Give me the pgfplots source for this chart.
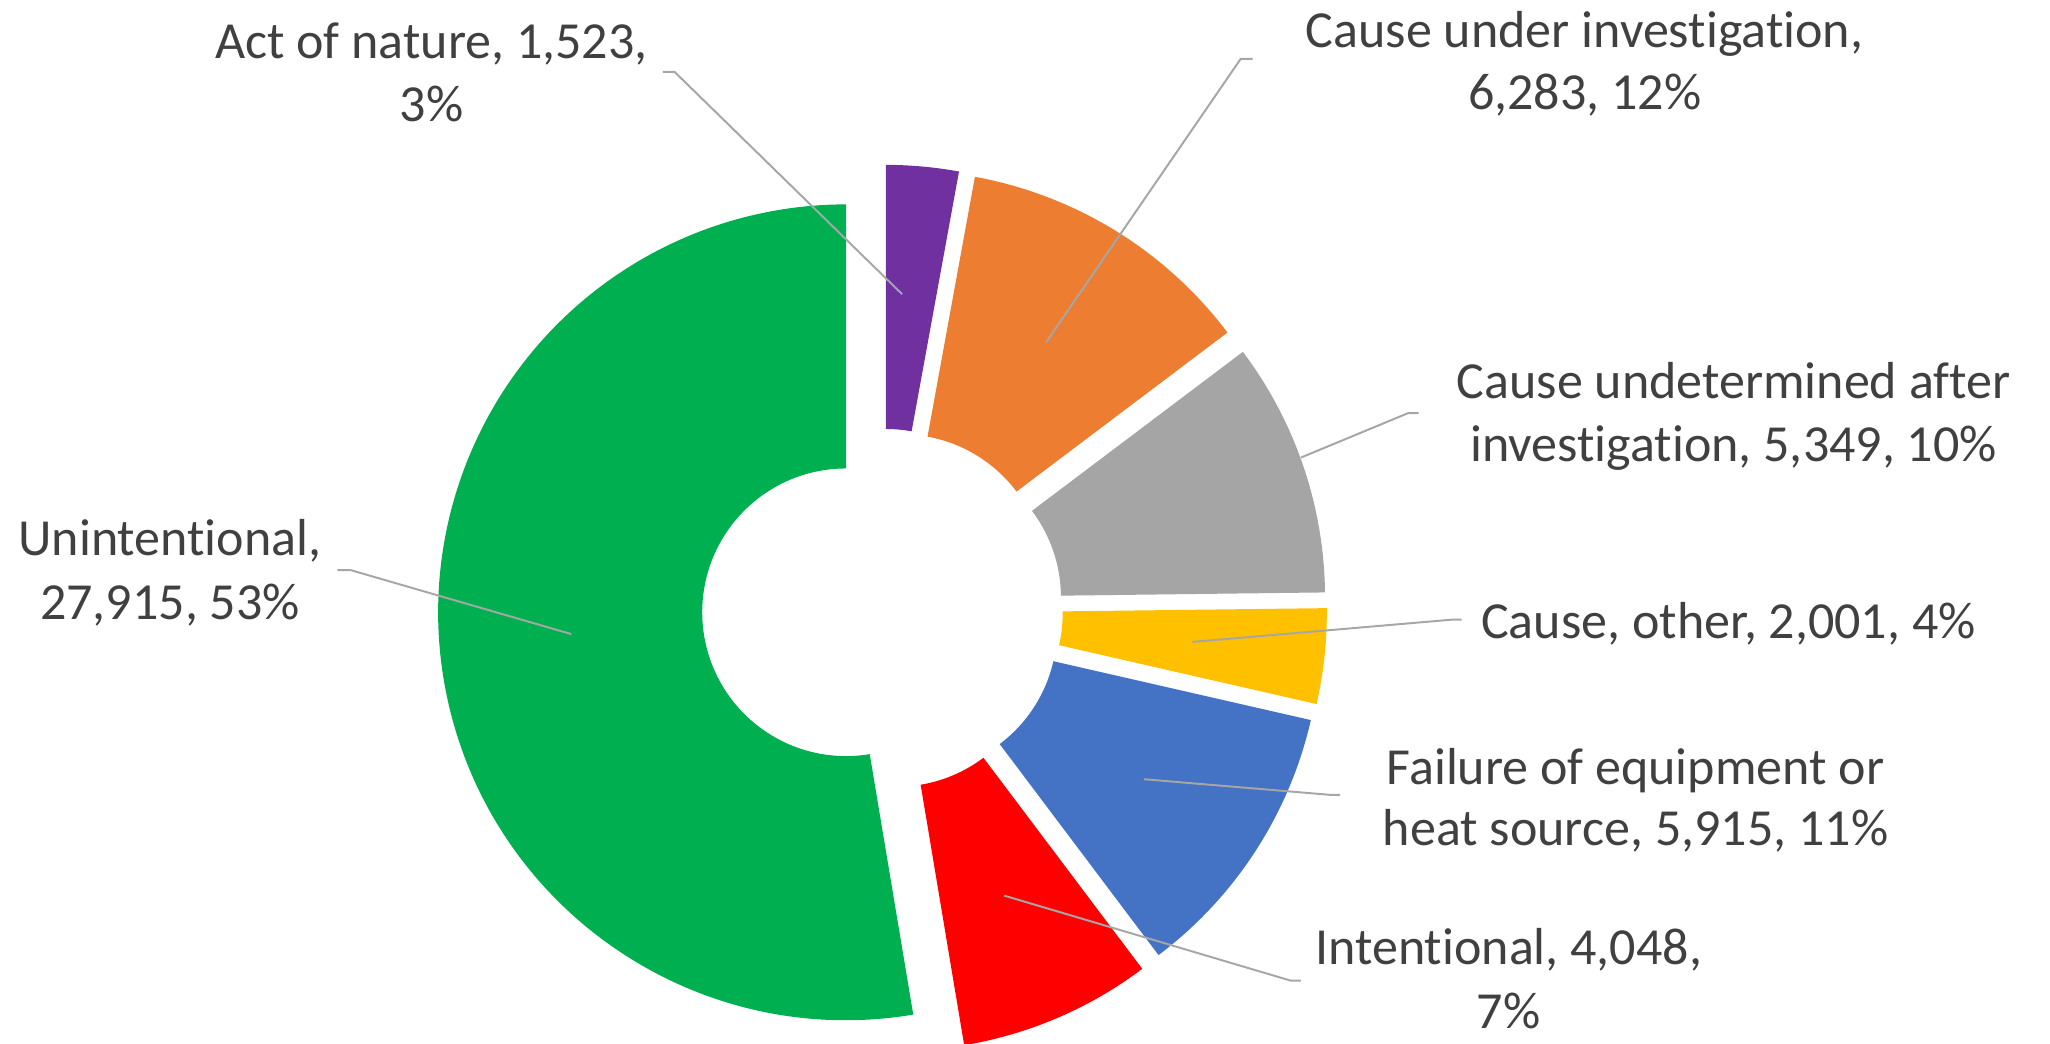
\documentclass[border=0pt]{standalone}
\usepackage{pgfplots}
\pgfplotsset{compat=1.18}
\usepackage{pgfplotstable}
\usepackage{fontspec}
\setmainfont{Carlito}[RawFeature={-liga;-clig;-calt;-dlig}]
\definecolor{cPurple}{HTML}{7030A0}
\definecolor{cOrange}{HTML}{ED7D31}
\definecolor{cGray}{HTML}{A5A5A5}
\definecolor{cYellow}{HTML}{FFC000}
\definecolor{cBlue}{HTML}{4472C4}
\definecolor{cRed}{HTML}{FF0000}
\definecolor{cGreen}{HTML}{00B050}
\definecolor{txt}{HTML}{404040}
\definecolor{leader}{HTML}{A6A6A6}

% Causes of fires (clockwise from 12 o'clock)
\pgfplotstableread{
idx value
0 1523
1 6283
2 5349
3 2001
4 5915
5 4048
6 27915
}\causedata

\xdef\cumsum{0}
\pgfplotsforeachungrouped \i in {0,...,6}{%
  \pgfplotstablegetelem{\i}{value}\of\causedata
  \expandafter\xdef\csname cumA\i\endcsname{\cumsum}%
  \xdef\cumsum{\fpeval{\cumsum+\pgfplotsretval}}%
  \expandafter\xdef\csname cumB\i\endcsname{\cumsum}%
}
\xdef\total{\cumsum}

% donut geometry (1 axis unit = 0.5pt)
\def\cx{675}\def\cy{466}
\def\Rout{156pt}\def\Rin{55pt}\def\Expl{14pt}

\newcommand\slice[2]{%
  \edef\phs{\fpeval{90-360*\csname cumA#1\endcsname/\total}}%
  \edef\phe{\fpeval{90-360*\csname cumB#1\endcsname/\total}}%
  \edef\phm{\fpeval{(\phs+\phe)/2}}%
  \edef\temp{\noexpand\fill[#2, shift={(axis cs:\cx,\cy)}, shift={(\phm:\Expl)}]
    (\phs:\Rout) arc[start angle=\phs, end angle=\phe, radius=\Rout]
    -- (\phe:\Rin) arc[start angle=\phe, end angle=\phs, radius=\Rin] -- cycle;}%
  \temp
}
\newcommand\lbl[3]{\node[anchor=base, text=txt, inner sep=0pt, font=\fontsize{19.9}{24}\selectfont] at (axis cs:#1,#2) {#3};}

\begin{document}
\begin{tikzpicture}
\begin{axis}[
  width=784pt, height=399pt, scale only axis,
  xmin=0, xmax=1568, ymin=0, ymax=798, y dir=reverse,
  hide axis, clip=false,
]
\slice{0}{cPurple}
\slice{1}{cOrange}
\slice{2}{cGray}
\slice{3}{cYellow}
\slice{4}{cBlue}
\slice{5}{cRed}
\slice{6}{cGreen}

\begin{scope}[leader, line width=0.75pt]
\draw (axis cs:507,55) -- (axis cs:516,55) -- (axis cs:690,225);
\draw (axis cs:958,45) -- (axis cs:949,45) -- (axis cs:800,262);
\draw (axis cs:1085,316) -- (axis cs:1077,316) -- (axis cs:995,350);
\draw (axis cs:1118,474) -- (axis cs:1110,474) -- (axis cs:912,491);
\draw (axis cs:1025,608) -- (axis cs:1018,608) -- (axis cs:875,596);
\draw (axis cs:995,750) -- (axis cs:987,750) -- (axis cs:768,685);
\draw (axis cs:258,436) -- (axis cs:268,436) -- (axis cs:437,485);
\end{scope}

\lbl{330}{45}{Act of nature, 1,523,}
\lbl{330}{93}{3\%}
\lbl{1212}{36}{Cause under investigation,}
\lbl{1212}{84}{6,283, 12\%}
\lbl{1326}{305}{Cause undetermined after}
\lbl{1326}{353}{investigation, 5,349, 10\%}
\lbl{1322}{488}{Cause, other, 2,001, 4\%}
\lbl{1251}{600}{Failure of equipment or}
\lbl{1251}{647}{heat source, 5,915, 11\%}
\lbl{1154}{738}{Intentional, 4,048,}
\lbl{1154}{787}{7\%}
\lbl{130}{425}{Unintentional,}
\lbl{130}{474}{27,915, 53\%}
\end{axis}
\pgfresetboundingbox
\path[use as bounding box] (current axis.south west) rectangle (current axis.north east);
\end{tikzpicture}
\end{document}
